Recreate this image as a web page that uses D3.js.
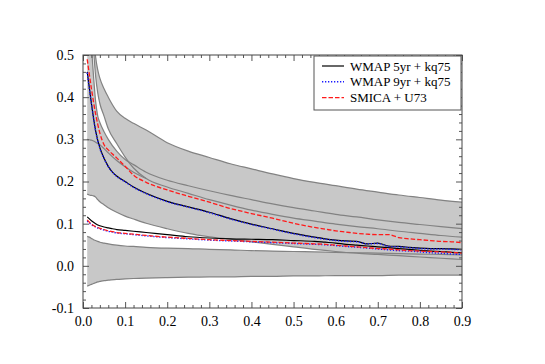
<!DOCTYPE html>
<html><head><meta charset="utf-8">
<script src="https://cdn.jsdelivr.net/npm/d3@7"></script>
<style>body{margin:0;background:#fff}</style>
</head><body><svg id="c" width="545" height="364"></svg>
<script>
// ---- data ----
const xTicks = [0, 0.1, 0.2, 0.3, 0.4, 0.5, 0.6, 0.7, 0.8, 0.9];
const xTickLabels = ["0.0","0.1","0.2","0.3","0.4","0.5","0.6","0.7","0.8","0.9"];
const yTicks = [-0.1, 0, 0.1, 0.2, 0.3, 0.4, 0.5];
const yTickLabels = ["-0.1","0.0","0.1","0.2","0.3","0.4","0.5"];

// band boundaries grid
const bandX = [0.01,0.015,0.02,0.025,0.03,0.035,0.04,0.05,0.06,0.08,0.1,0.12,0.15,0.2,0.25,0.3,0.35,0.4,0.45,0.5,0.55,0.6,0.65,0.7,0.75,0.8,0.85,0.9];
const band1Upper = [0.9,0.75,0.64,0.55,0.495,0.465,0.445,0.42,0.40,0.367,0.35,0.338,0.322,0.292,0.272,0.257,0.242,0.23,0.218,0.207,0.198,0.19,0.182,0.175,0.168,0.162,0.156,0.151];
const band1Lower = [0.9,0.72,0.6,0.515,0.45,0.41,0.385,0.355,0.325,0.29,0.258,0.232,0.207,0.187,0.172,0.157,0.144,0.132,0.122,0.113,0.106,0.099,0.093,0.088,0.082,0.077,0.072,0.068];
const band2Upper = [0.75,0.6,0.52,0.45,0.39,0.355,0.34,0.318,0.30,0.272,0.252,0.240,0.222,0.203,0.19,0.178,0.167,0.157,0.147,0.138,0.13,0.122,0.116,0.109,0.103,0.098,0.093,0.088];
const band2Inner = [0.30,0.299,0.298,0.296,0.293,0.29,0.287,0.278,0.268,0.25,0.235,0.222,0.207,null,null,null,null,null,null,null,null,null,null,null,null,null,null,null];
const band2Lower = [0.17,0.168,0.167,0.166,0.163,0.157,0.152,0.145,0.138,0.127,0.118,0.111,0.101,0.088,0.077,0.069,0.063,0.057,0.051,0.045,0.039,0.034,0.030,0.027,0.024,0.021,0.018,0.015];
const band3Upper = [0.070,0.068,0.065,0.062,0.060,0.058,0.056,0.054,0.052,0.049,0.047,0.046,0.044,0.042,0.041,0.039,0.038,0.036,0.035,0.034,0.033,0.032,0.031,0.030,0.029,0.028,0.027,0.026];
const band3Lower = [-0.048,-0.046,-0.044,-0.042,-0.040,-0.038,-0.037,-0.035,-0.034,-0.032,-0.031,-0.030,-0.029,-0.028,-0.027,-0.026,-0.026,-0.025,-0.025,-0.024,-0.024,-0.023,-0.023,-0.023,-0.022,-0.022,-0.022,-0.022];

// measured curves grid
const curveX = [0.01,0.02,0.03,0.04,0.05,0.06,0.07,0.08,0.1,0.12,0.15,0.2,0.25,0.3,0.35,0.4,0.45,0.5,0.55,0.575,0.6,0.625,0.65,0.675,0.7,0.725,0.75,0.775,0.8,0.825,0.85,0.875,0.9];
const wmap5High = [0.46,0.385,0.32,0.28,0.255,0.236,0.222,0.213,0.200,0.187,0.172,0.153,0.140,0.127,0.112,0.099,0.088,0.077,0.068,0.064,0.061,0.059,0.058,0.052,0.054,0.047,0.046,0.044,0.042,0.041,0.041,0.040,0.039];
const wmap9High = [0.458,0.384,0.319,0.279,0.254,0.235,0.222,0.212,0.199,0.186,0.171,0.152,0.139,0.126,0.111,0.098,0.087,0.076,0.067,0.063,0.060,0.058,0.057,0.052,0.053,0.046,0.045,0.043,0.041,0.040,0.040,0.039,0.038];
const smicaHigh = [0.49,0.42,0.36,0.315,0.287,0.275,0.265,0.256,0.236,0.215,0.198,0.180,0.165,0.151,0.136,0.124,0.113,0.101,0.091,0.087,0.083,0.080,0.077,0.075,0.074,0.074,0.067,0.064,0.062,0.060,0.058,0.057,0.055];
const wmap5Low = [0.116,0.107,0.100,0.095,0.092,0.090,0.088,0.086,0.084,0.082,0.079,0.074,0.069,0.066,0.064,0.063,0.062,0.060,0.058,0.056,0.054,0.051,0.049,0.047,0.045,0.043,0.041,0.039,0.037,0.035,0.034,0.032,0.031];
const wmap9Low = [0.106,0.098,0.092,0.088,0.085,0.082,0.080,0.078,0.076,0.074,0.071,0.067,0.064,0.061,0.059,0.057,0.055,0.053,0.051,0.050,0.048,0.046,0.044,0.042,0.040,0.038,0.036,0.035,0.033,0.031,0.030,0.028,0.027];
const smicaLow = [0.109,0.099,0.093,0.089,0.086,0.083,0.081,0.079,0.077,0.075,0.072,0.068,0.065,0.062,0.060,0.058,0.056,0.054,0.052,0.051,0.049,0.047,0.045,0.043,0.041,0.040,0.038,0.036,0.035,0.034,0.033,0.032,0.030];

const legendLabels = ["WMAP 5yr + kq75", "WMAP 9yr + kq75", "SMICA + U73"];

// ---- drawing ----
const svg = d3.select("#c");
const L = 83, R = 462, T = 55, B = 308;
const x = d3.scaleLinear().domain([0, 0.9]).range([L, R]);
const y = d3.scaleLinear().domain([-0.1, 0.5]).range([B, T]);

svg.append("defs").append("clipPath").attr("id","clip")
  .append("rect").attr("x",L).attr("y",T).attr("width",R-L).attr("height",B-T);
const plot = svg.append("g").attr("clip-path","url(#clip)");

const bandFill = "#c8c8c8", bandLine = "#828282";
function bandArea(lo, hi) {
  return d3.area().curve(d3.curveMonotoneX)
    .x((d,i)=>x(bandX[i])).y0((d,i)=>y(lo[i])).y1((d,i)=>y(hi[i]))(bandX);
}
[[band1Lower,band1Upper],[band2Lower,band2Upper],[band3Lower,band3Upper]].forEach(([lo,hi])=>{
  plot.append("path").attr("d", bandArea(lo,hi)).attr("fill", bandFill).attr("stroke","none");
});
const bline = d3.line().curve(d3.curveMonotoneX).defined(d=>d[1]!=null).x(d=>x(d[0])).y(d=>y(d[1]));
[band1Upper,band1Lower,band2Upper,band2Inner,band2Lower,band3Upper,band3Lower].forEach(arr=>{
  plot.append("path").attr("d", bline(bandX.map((v,i)=>[v,arr[i]])))
    .attr("fill","none").attr("stroke",bandLine).attr("stroke-width",1.2);
});

const cline = d3.line().curve(d3.curveMonotoneX).x(d=>x(d[0])).y(d=>y(d[1]));
const styles = [
  {color:"#000000", dash:null, w:1.2},
  {color:"#1a1aff", dash:"1.3,1.7", w:1.4},
  {color:"#ff1a1a", dash:"4.5,2", w:1.3}
];
const series = [[wmap5High,wmap5Low],[wmap9High,wmap9Low],[smicaHigh,smicaLow]];
series.forEach((pair,k)=>{
  pair.forEach(arr=>{
    const p = plot.append("path").attr("d", cline(curveX.map((v,i)=>[v,arr[i]])))
      .attr("fill","none").attr("stroke",styles[k].color).attr("stroke-width",styles[k].w);
    if (styles[k].dash) p.attr("stroke-dasharray", styles[k].dash);
  });
});

// axes (ticks inward on all sides)
const font = "'Liberation Serif', 'Times New Roman', serif";
const minorX = d3.range(0, 0.9001, 0.02).filter(v=>Math.abs(v*10-Math.round(v*10))>1e-6);
const minorY = d3.range(-0.1, 0.5001, 0.02).filter(v=>Math.abs(v*10-Math.round(v*10))>1e-6);
const tickColor = "#555";
function styleAxis(g){ g.select(".domain").remove(); g.selectAll("line").attr("stroke",tickColor); g.selectAll("text").attr("font-family",font).attr("font-size","14px").attr("fill","#000"); }

svg.append("g").attr("transform",`translate(0,${B})`)
  .call(d3.axisBottom(x).tickValues(xTicks).tickFormat((d,i)=>xTickLabels[i]).tickSize(-6).tickPadding(8)).call(styleAxis);
svg.append("g").attr("transform",`translate(0,${B})`)
  .call(d3.axisBottom(x).tickValues(minorX).tickFormat("").tickSize(-3)).call(styleAxis);
svg.append("g").attr("transform",`translate(0,${T})`)
  .call(d3.axisTop(x).tickValues(xTicks).tickFormat("").tickSize(-6)).call(styleAxis);
svg.append("g").attr("transform",`translate(0,${T})`)
  .call(d3.axisTop(x).tickValues(minorX).tickFormat("").tickSize(-3)).call(styleAxis);
svg.append("g").attr("transform",`translate(${L},0)`)
  .call(d3.axisLeft(y).tickValues(yTicks).tickFormat((d,i)=>yTickLabels[i]).tickSize(-6).tickPadding(9)).call(styleAxis);
svg.append("g").attr("transform",`translate(${L},0)`)
  .call(d3.axisLeft(y).tickValues(minorY).tickFormat("").tickSize(-3)).call(styleAxis);
svg.append("g").attr("transform",`translate(${R},0)`)
  .call(d3.axisRight(y).tickValues(yTicks).tickFormat("").tickSize(-6)).call(styleAxis);
svg.append("g").attr("transform",`translate(${R},0)`)
  .call(d3.axisRight(y).tickValues(minorY).tickFormat("").tickSize(-3)).call(styleAxis);

svg.append("rect").attr("x",L).attr("y",T).attr("width",R-L).attr("height",B-T)
  .attr("fill","none").attr("stroke","#444").attr("stroke-width",1);

// legend
const lg = svg.append("g");
lg.append("rect").attr("x",314).attr("y",56).attr("width",147).attr("height",54)
  .attr("fill","#fff").attr("stroke","#555").attr("stroke-width",1);
legendLabels.forEach((lab,i)=>{
  const yy = 66 + i*15.8;
  const ln = lg.append("line").attr("x1",322).attr("x2",344).attr("y1",yy).attr("y2",yy)
    .attr("stroke",styles[i].color).attr("stroke-width",styles[i].w);
  if (styles[i].dash) ln.attr("stroke-dasharray", styles[i].dash);
  lg.append("text").attr("x",350).attr("y",yy+4.5).text(lab)
    .attr("font-family",font).attr("font-size","13px").attr("fill","#000");
});
</script></body></html>
